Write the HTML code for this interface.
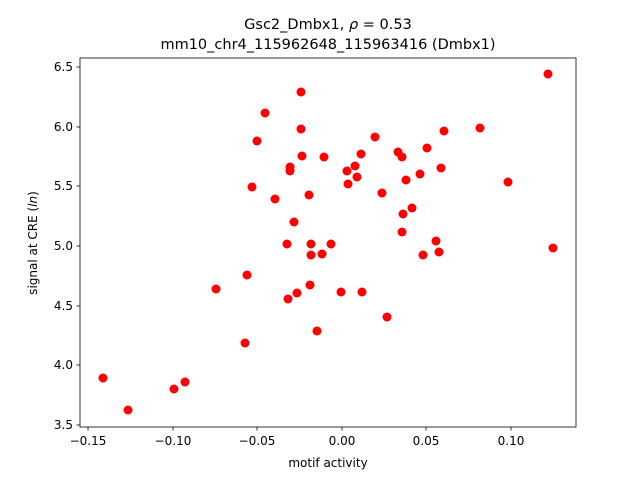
<!DOCTYPE html>
<html><head><style>body{margin:0;background:#fff}svg{display:block}text{font-family:"DejaVu Sans","Liberation Sans",sans-serif;fill:#000}</style></head>
<body>
<svg width="640" height="480" viewBox="0 0 640 480">
<rect width="640" height="480" fill="#fff"/>
<text x="328" y="29" font-size="14.5" text-anchor="middle">Gsc2_Dmbx1, <tspan font-style="italic">ρ</tspan> = 0.53</text>
<text x="328" y="49" font-size="14.5" text-anchor="middle">mm10_chr4_115962648_115963416 (Dmbx1)</text>
<g fill="#ff0000">
<circle cx="103" cy="378" r="4.5"/><circle cx="128" cy="410" r="4.5"/><circle cx="174" cy="389" r="4.5"/><circle cx="185" cy="382" r="4.5"/><circle cx="216" cy="289" r="4.5"/><circle cx="245" cy="343" r="4.5"/><circle cx="247" cy="275" r="4.5"/><circle cx="252" cy="187" r="4.5"/><circle cx="257" cy="141" r="4.5"/><circle cx="265" cy="113" r="4.5"/><circle cx="275" cy="199" r="4.5"/><circle cx="287" cy="244" r="4.5"/><circle cx="288" cy="299" r="4.5"/><circle cx="290" cy="167" r="4.5"/><circle cx="290" cy="171" r="4.5"/><circle cx="294" cy="222" r="4.5"/><circle cx="297" cy="293" r="4.5"/><circle cx="301" cy="92" r="4.5"/><circle cx="301" cy="129" r="4.5"/><circle cx="302" cy="156" r="4.5"/><circle cx="309" cy="195" r="4.5"/><circle cx="311" cy="244" r="4.5"/><circle cx="311" cy="255" r="4.5"/><circle cx="310" cy="285" r="4.5"/><circle cx="317" cy="331" r="4.5"/><circle cx="322" cy="254" r="4.5"/><circle cx="324" cy="157" r="4.5"/><circle cx="331" cy="244" r="4.5"/><circle cx="341" cy="292" r="4.5"/><circle cx="347" cy="171" r="4.5"/><circle cx="348" cy="184" r="4.5"/><circle cx="355" cy="166" r="4.5"/><circle cx="357" cy="177" r="4.5"/><circle cx="361" cy="154" r="4.5"/><circle cx="362" cy="292" r="4.5"/><circle cx="375" cy="137" r="4.5"/><circle cx="382" cy="193" r="4.5"/><circle cx="387" cy="317" r="4.5"/><circle cx="398" cy="152" r="4.5"/><circle cx="402" cy="157" r="4.5"/><circle cx="402" cy="232" r="4.5"/><circle cx="403" cy="214" r="4.5"/><circle cx="406" cy="180" r="4.5"/><circle cx="412" cy="208" r="4.5"/><circle cx="420" cy="174" r="4.5"/><circle cx="423" cy="255" r="4.5"/><circle cx="427" cy="148" r="4.5"/><circle cx="436" cy="241" r="4.5"/><circle cx="439" cy="252" r="4.5"/><circle cx="441" cy="168" r="4.5"/><circle cx="444" cy="131" r="4.5"/><circle cx="480" cy="128" r="4.5"/><circle cx="508" cy="182" r="4.5"/><circle cx="548" cy="74" r="4.5"/><circle cx="553" cy="248" r="4.5"/>
</g>
<rect x="80" y="58" width="496" height="369" fill="none" stroke="#000" stroke-width="0.8"/>
<g stroke="#000" stroke-width="0.8">
<line x1="88" y1="427" x2="88" y2="430.5"/><line x1="173" y1="427" x2="173" y2="430.5"/><line x1="257" y1="427" x2="257" y2="430.5"/><line x1="342" y1="427" x2="342" y2="430.5"/><line x1="426" y1="427" x2="426" y2="430.5"/><line x1="511" y1="427" x2="511" y2="430.5"/>
<line x1="76.5" y1="67" x2="80" y2="67"/><line x1="76.5" y1="127" x2="80" y2="127"/><line x1="76.5" y1="186" x2="80" y2="186"/><line x1="76.5" y1="246" x2="80" y2="246"/><line x1="76.5" y1="306" x2="80" y2="306"/><line x1="76.5" y1="365" x2="80" y2="365"/><line x1="76.5" y1="425" x2="80" y2="425"/>
</g>
<g font-size="12" text-anchor="middle">
<text x="88" y="445">−0.15</text><text x="173" y="445">−0.10</text><text x="257" y="445">−0.05</text><text x="342" y="445">0.00</text><text x="426" y="445">0.05</text><text x="511" y="445">0.10</text>
</g>
<g font-size="12" text-anchor="end">
<text x="73" y="71">6.5</text><text x="73" y="131">6.0</text><text x="73" y="190">5.5</text><text x="73" y="250">5.0</text><text x="73" y="310">4.5</text><text x="73" y="369">4.0</text><text x="73" y="429">3.5</text>
</g>
<text x="328" y="467" font-size="12" text-anchor="middle">motif activity</text>
<text transform="translate(37,243) rotate(-90)" font-size="12" text-anchor="middle">signal at CRE (<tspan font-style="italic">ln</tspan>)</text>
</svg>
</body></html>
